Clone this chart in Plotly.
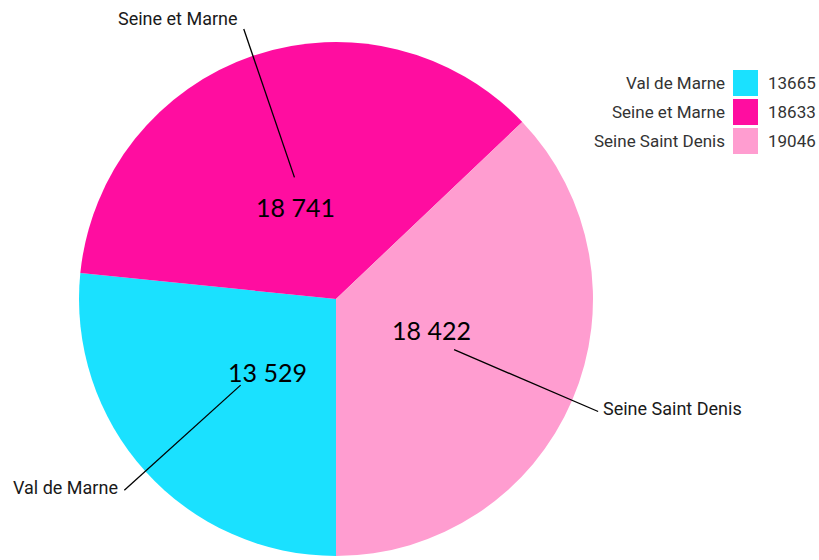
import math
import plotly.graph_objects as go

# ---- data ----
categories = ["Val de Marne", "Seine et Marne", "Seine Saint Denis"]
slice_values = [13665, 18633, 19046]        # legend numbers (slice sizes)
label_values = [13529, 18741, 18422]        # numbers printed on the slices
colors = ["#1AE1FF", "#FF0DA0", "#FF9DD0"]

W, H = 819, 560
CX, CY, R = 336, 299, 257   # pie centre / radius in pixels


def fx(x):
    return x / W


def fy(y):
    return 1 - y / H


def fmt(v):
    return f"{v:,}".replace(",", " ")


fig = go.Figure(go.Pie(
    labels=categories,
    values=slice_values,
    marker=dict(colors=colors, line=dict(width=0)),
    sort=False,
    direction="clockwise",
    rotation=180,
    textinfo="none",
    showlegend=False,
    domain=dict(x=[fx(CX - R), fx(CX + R)], y=[fy(CY + R), fy(CY - R)]),
))

total = sum(slice_values)
start = 180.0
annotations = []
shapes = []
for cat, v, lv in zip(categories, slice_values, label_values):
    span = v / total * 360
    mid_deg = start + span / 2
    start += span
    mid = math.radians(mid_deg)
    sx, cy = math.sin(mid), math.cos(mid)

    # value inside slice
    tr = 0.39 * R
    ta = math.radians(mid_deg - 5)
    annotations.append(dict(
        x=fx(CX + tr * math.sin(ta)), y=fy(CY - tr * math.cos(ta)),
        xref="paper", yref="paper",
        text=fmt(lv), showarrow=False,
        font=dict(family="Lato", size=25, color="#000000"),
        xanchor="center", yanchor="middle"))

    # leader line
    r1, r2 = 0.5 * R, 1.11 * R
    x1, y1 = CX + r1 * sx, CY - r1 * cy
    x2, y2 = CX + r2 * sx, CY - r2 * cy
    shapes.append(dict(type="line", xref="paper", yref="paper",
                       x0=fx(x1), y0=fy(y1), x1=fx(x2), y1=fy(y2),
                       line=dict(color="#000000", width=1.3)))

    # outside label
    right = sx >= 0
    annotations.append(dict(
        x=fx(x2), y=fy(y2), xref="paper", yref="paper",
        text=cat, showarrow=False,
        font=dict(family="Roboto", size=18, color="#1a1a1a"),
        xanchor="left" if right else "right", yanchor="middle",
        xshift=3 if right else -4, yshift=3 + 8 * max(cy, 0)))

# ---- custom legend ----
LX_SQ, LY0, SQ, STEP = 733, 70, 25, 29
for i, (cat, v, c) in enumerate(zip(categories, slice_values, colors)):
    top = LY0 + i * STEP
    shapes.append(dict(type="rect", xref="paper", yref="paper",
                       x0=fx(LX_SQ), x1=fx(LX_SQ + SQ),
                       y0=fy(top + SQ + 1), y1=fy(top),
                       fillcolor=c, line=dict(width=0)))
    annotations.append(dict(
        x=fx(LX_SQ - 6), y=fy(top + SQ / 2 + 0.5), xref="paper", yref="paper",
        text=cat, showarrow=False, xanchor="right", yanchor="middle",
        font=dict(family="Roboto", size=17, color="#333333")))
    annotations.append(dict(
        x=fx(LX_SQ + SQ + 8), y=fy(top + SQ / 2 + 0.5), xref="paper", yref="paper",
        text=str(v), showarrow=False, xanchor="left", yanchor="middle",
        font=dict(family="Roboto", size=17, color="#333333")))

fig.update_layout(
    width=W, height=H,
    margin=dict(l=0, r=0, t=0, b=0),
    paper_bgcolor="white", plot_bgcolor="white",
    annotations=annotations, shapes=shapes,
)

fig.write_html("out.html",
               config={"displayModeBar": False},
               post_script="document.body.style.margin='0';"
                           "document.body.style.padding='0';")
